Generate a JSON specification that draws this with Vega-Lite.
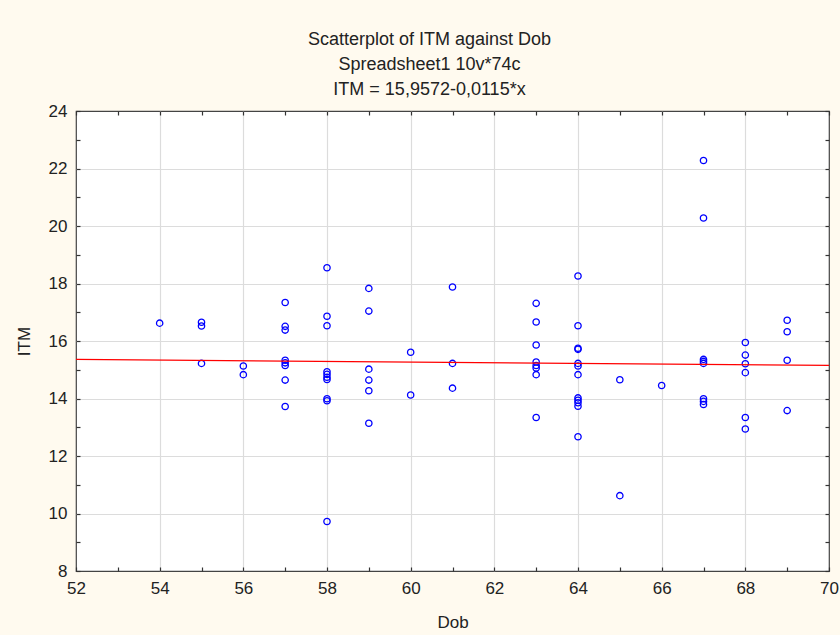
{
  "$schema": "https://vega.github.io/schema/vega-lite/v6.json",
  "width": 753,
  "height": 460,
  "autosize": {"type": "none"},
  "padding": {"left": 76, "top": 111, "right": 11, "bottom": 64},
  "background": "#fffaef",
  "config": {
    "view": {"fill": "white", "stroke": "#444444", "strokeWidth": 1.2},
    "font": "Liberation Sans, Arial",
    "axis": {
      "domain": false,
      "labelFont": "Liberation Sans, Arial",
      "titleFont": "Liberation Sans, Arial",
      "labelFontSize": 17,
      "titleFontSize": 17,
      "labelColor": "#222222",
      "titleColor": "#222222",
      "titleFontWeight": "normal",
      "tickColor": "#333333",
      "tickWidth": 1.2,
      "gridColor": "#dcdcdc",
      "gridWidth": 1.2
    }
  },
  "title": {
    "text": ["Scatterplot of ITM against Dob", "Spreadsheet1 10v*74c", "ITM = 15,9572-0,0115*x"],
    "font": "Liberation Sans, Arial",
    "fontSize": 18,
    "fontWeight": "normal",
    "color": "#222222",
    "lineHeight": 25,
    "anchor": "middle",
    "dx": -23,
    "offset": 3
  },
  "layer": [
    {
      "data": {"values": [
        {"Dob": 54, "ITM": 16.62},
        {"Dob": 55, "ITM": 16.65}, {"Dob": 55, "ITM": 16.52}, {"Dob": 55, "ITM": 15.22},
        {"Dob": 56, "ITM": 15.13}, {"Dob": 56, "ITM": 14.83},
        {"Dob": 57, "ITM": 17.34}, {"Dob": 57, "ITM": 16.51}, {"Dob": 57, "ITM": 16.38}, {"Dob": 57, "ITM": 15.33}, {"Dob": 57, "ITM": 15.24}, {"Dob": 57, "ITM": 15.15}, {"Dob": 57, "ITM": 14.64}, {"Dob": 57, "ITM": 13.72},
        {"Dob": 58, "ITM": 18.55}, {"Dob": 58, "ITM": 16.86}, {"Dob": 58, "ITM": 16.53}, {"Dob": 58, "ITM": 14.93}, {"Dob": 58, "ITM": 14.84}, {"Dob": 58, "ITM": 14.74}, {"Dob": 58, "ITM": 14.66}, {"Dob": 58, "ITM": 13.99}, {"Dob": 58, "ITM": 13.92}, {"Dob": 58, "ITM": 9.72},
        {"Dob": 59, "ITM": 17.83}, {"Dob": 59, "ITM": 17.04}, {"Dob": 59, "ITM": 15.02}, {"Dob": 59, "ITM": 14.64}, {"Dob": 59, "ITM": 14.27}, {"Dob": 59, "ITM": 13.14},
        {"Dob": 60, "ITM": 15.61}, {"Dob": 60, "ITM": 14.12},
        {"Dob": 61, "ITM": 17.88}, {"Dob": 61, "ITM": 15.22}, {"Dob": 61, "ITM": 14.36},
        {"Dob": 63, "ITM": 17.31}, {"Dob": 63, "ITM": 16.66}, {"Dob": 63, "ITM": 15.86}, {"Dob": 63, "ITM": 15.27}, {"Dob": 63, "ITM": 15.15}, {"Dob": 63, "ITM": 15.06}, {"Dob": 63, "ITM": 14.83}, {"Dob": 63, "ITM": 13.34},
        {"Dob": 64, "ITM": 18.26}, {"Dob": 64, "ITM": 16.53}, {"Dob": 64, "ITM": 15.75}, {"Dob": 64, "ITM": 15.71}, {"Dob": 64, "ITM": 15.22}, {"Dob": 64, "ITM": 15.13}, {"Dob": 64, "ITM": 14.83}, {"Dob": 64, "ITM": 14.02}, {"Dob": 64, "ITM": 13.94}, {"Dob": 64, "ITM": 13.85}, {"Dob": 64, "ITM": 13.73}, {"Dob": 64, "ITM": 12.67},
        {"Dob": 65, "ITM": 14.65}, {"Dob": 65, "ITM": 10.62},
        {"Dob": 66, "ITM": 14.45},
        {"Dob": 67, "ITM": 22.28}, {"Dob": 67, "ITM": 20.28}, {"Dob": 67, "ITM": 15.36}, {"Dob": 67, "ITM": 15.29}, {"Dob": 67, "ITM": 15.22}, {"Dob": 67, "ITM": 13.99}, {"Dob": 67, "ITM": 13.90}, {"Dob": 67, "ITM": 13.79},
        {"Dob": 68, "ITM": 15.95}, {"Dob": 68, "ITM": 15.51}, {"Dob": 68, "ITM": 15.21}, {"Dob": 68, "ITM": 14.90}, {"Dob": 68, "ITM": 13.34}, {"Dob": 68, "ITM": 12.94},
        {"Dob": 69, "ITM": 16.72}, {"Dob": 69, "ITM": 16.32}, {"Dob": 69, "ITM": 15.33}, {"Dob": 69, "ITM": 13.58}
      ]},
      "mark": {"type": "point", "shape": "circle", "filled": false, "color": "#0000ff", "size": 40, "strokeWidth": 1.3, "opacity": 1},
      "encoding": {
        "x": {
          "field": "Dob", "type": "quantitative",
          "scale": {"domain": [52, 70], "nice": false, "zero": false},
          "axis": {
            "orient": "bottom",
            "title": "Dob",
            "values": [52,53,54,55,56,57,58,59,60,61,62,63,64,65,66,67,68,69,70],
            "labelExpr": "datum.value % 2 == 0 ? datum.label : ''",
            "labelFlush": false,
            "labelOverlap": false,
            "grid": true,
            "gridOpacity": {"condition": {"test": "datum.value % 2 == 0 && datum.value > 52 && datum.value < 70", "value": 1}, "value": 0},
            "tickSize": -4,
            "labelPadding": 13,
            "titlePadding": 18
          }
        },
        "y": {
          "field": "ITM", "type": "quantitative",
          "scale": {"domain": [8, 24], "nice": false, "zero": false},
          "axis": {
            "orient": "left",
            "title": "ITM",
            "values": [8,9,10,11,12,13,14,15,16,17,18,19,20,21,22,23,24],
            "labelExpr": "datum.value % 2 == 0 ? datum.label : ''",
            "labelFlush": false,
            "labelOverlap": false,
            "grid": true,
            "gridOpacity": {"condition": {"test": "datum.value % 2 == 0 && datum.value > 8 && datum.value < 24", "value": 1}, "value": 0},
            "tickSize": -4,
            "labelPadding": 13,
            "titlePadding": 15
          }
        }
      }
    },
    {
      "data": {"values": [
        {"Dob": 52, "ITM": 15.36},
        {"Dob": 70, "ITM": 15.15}
      ]},
      "mark": {"type": "line", "color": "#ff0000", "strokeWidth": 1.2},
      "encoding": {
        "x": {
          "field": "Dob", "type": "quantitative",
          "axis": {
            "orient": "top",
            "title": null,
            "values": [52,53,54,55,56,57,58,59,60,61,62,63,64,65,66,67,68,69,70],
            "labels": false,
            "grid": false,
            "tickSize": -4
          }
        },
        "y": {
          "field": "ITM", "type": "quantitative",
          "axis": {
            "orient": "right",
            "title": null,
            "values": [8,9,10,11,12,13,14,15,16,17,18,19,20,21,22,23,24],
            "labels": false,
            "grid": false,
            "tickSize": -4
          }
        }
      }
    }
  ],
  "resolve": {"axis": {"x": "independent", "y": "independent"}}
}
